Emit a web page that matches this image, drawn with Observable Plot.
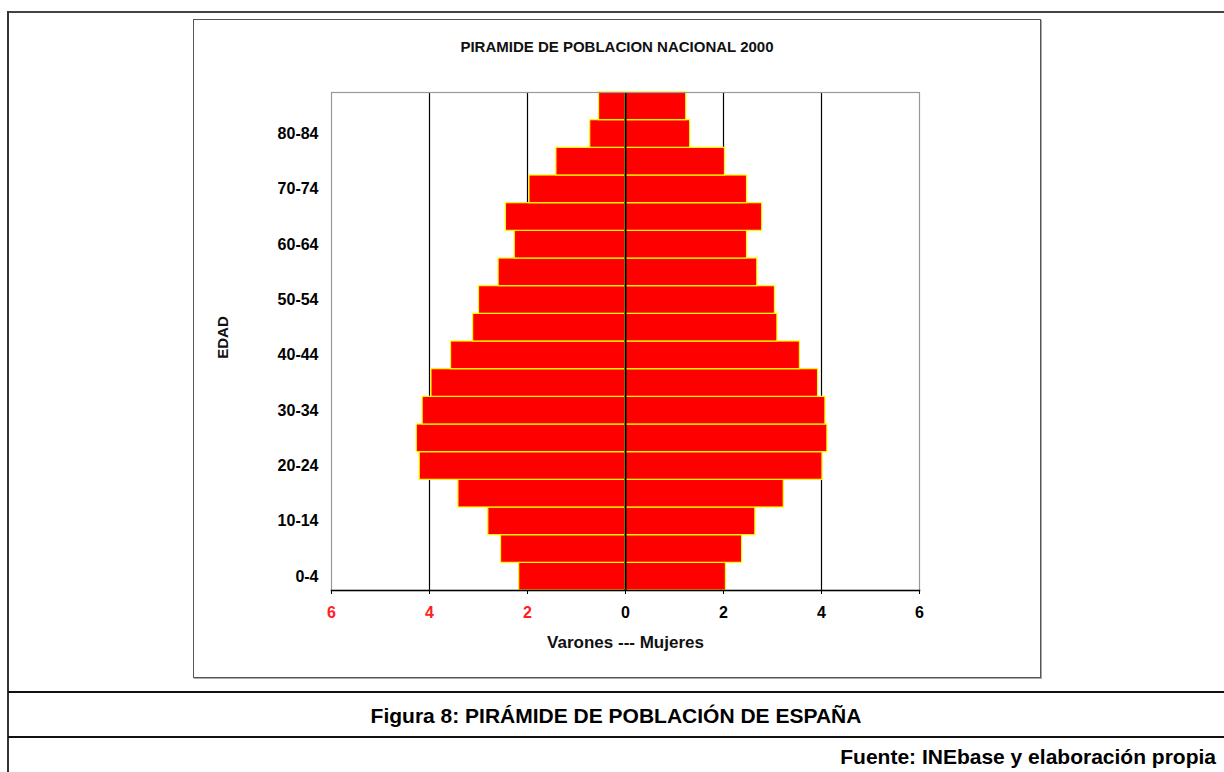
<!DOCTYPE html>
<html>
<head>
<meta charset="utf-8">
<script src="https://cdn.jsdelivr.net/npm/d3@7"></script>
<script src="https://cdn.jsdelivr.net/npm/@observablehq/plot@0.6"></script>
<style>
  body { margin: 0; background: #fff; font-family: "Liberation Sans", Arial, sans-serif; }
  #page { position: relative; width: 1224px; height: 772px; overflow: hidden; }
  .abs { position: absolute; }
  .hline { position: absolute; left: 8px; width: 1216px; height: 0; }
  #frame { left: 193px; top: 19px; width: 846px; height: 657px; border: 1px solid #555; box-shadow: 1px 1px 0 #aaa; }
  #title { left: 193px; width: 848px; top: 38px; text-align: center; font-size: 15px; font-weight: bold; color: #111; line-height: 18px; }
  #chart { left: 193px; top: 19px; }
  #caption { left: 8px; width: 1216px; top: 703px; text-align: center; font-size: 21px; font-weight: bold; line-height: 26px; color: #000; }
  #source { right: 8px; top: 744px; text-align: right; font-size: 21px; font-weight: bold; line-height: 26px; color: #000; }
</style>
</head>
<body>
<div id="page">
  <div class="hline" style="top:11px; border-top:2px solid #444;"></div>
  <div class="abs" style="left:7px; top:11px; width:0; height:761px; border-left:2px solid #333;"></div>
  <div class="hline" style="top:691px; border-top:2px solid #111;"></div>
  <div class="hline" style="top:736px; border-top:2px solid #111;"></div>
  <div id="frame" class="abs"></div>
  <div id="title" class="abs">PIRAMIDE DE POBLACION NACIONAL 2000</div>
  <div id="chart" class="abs"></div>
  <div id="caption" class="abs">Figura 8: PIRÁMIDE DE POBLACIÓN DE ESPAÑA</div>
  <div id="source" class="abs">Fuente: INEbase y elaboración propia</div>
</div>
<script>
// Age groups (bottom to top)
const ages = ["0-4","5-9","10-14","15-19","20-24","25-29","30-34","35-39","40-44","45-49","50-54","55-59","60-64","65-69","70-74","75-79","80-84","85+"];
// Percent of population, men (left) and women (right)
const varones = [2.17, 2.54, 2.80, 3.41, 4.20, 4.26, 4.14, 3.96, 3.56, 3.11, 2.99, 2.59, 2.26, 2.44, 1.96, 1.41, 0.72, 0.54];
const mujeres = [2.05, 2.38, 2.65, 3.23, 4.02, 4.12, 4.08, 3.93, 3.56, 3.10, 3.05, 2.69, 2.48, 2.79, 2.48, 2.03, 1.32, 1.24];
// Tick labels
const yTickLabels = ["0-4","10-14","20-24","30-34","40-44","50-54","60-64","70-74","80-84"];
const xTicks = [-6, -4, -2, 0, 2, 4, 6];
const gridValues = [-4, -2, 2, 4];
const xLabel = "Varones --- Mujeres";
const yLabel = "EDAD";

const rows = [];
ages.forEach((a, i) => {
  rows.push({age: a, sexo: "Varones", value: -varones[i]});
  rows.push({age: a, sexo: "Mujeres", value: mujeres[i]});
});

const chart = Plot.plot({
  width: 848,
  height: 659,
  marginLeft: 138,
  marginRight: 122,
  marginTop: 73,
  marginBottom: 88,
  style: {fontFamily: "Liberation Sans, Arial, sans-serif", fontSize: "16px", fontWeight: "bold", color: "#000", background: "transparent", overflow: "visible"},
  x: {domain: [-6, 6], label: null},
  y: {domain: ages.slice().reverse(), padding: 0, round: false, label: null},
  marks: [
    Plot.ruleX(gridValues, {stroke: "#000", strokeWidth: 1.2}),
    Plot.barX(rows, {x1: 0, x2: "value", y: "age", fill: "#ff0000", stroke: "#ffff00", strokeWidth: 1.2}),
    Plot.ruleX([0], {stroke: "#000", strokeWidth: 2}),
    Plot.frame({stroke: "#999", strokeWidth: 1.2}),
    Plot.frame({anchor: "bottom", stroke: "#000", strokeWidth: 1.5}),
    Plot.axisX({ticks: xTicks.filter(d => d < 0), tickFormat: d => Math.abs(d), fill: "#ff2020", stroke: "#000", tickSize: 4, tickPadding: 12, label: null}),
    Plot.axisX({ticks: xTicks.filter(d => d >= 0), tickFormat: d => Math.abs(d), fill: "#000", stroke: "#000", tickSize: 4, tickPadding: 12, label: null}),
    Plot.axisY({ticks: yTickLabels, tickSize: 0, tickPadding: 13, label: null, fill: "#000"}),
    Plot.text([xLabel], {frameAnchor: "bottom", dy: 52, lineAnchor: "middle", fontSize: 17, fill: "#111"}),
    Plot.text([yLabel], {frameAnchor: "left", dx: -108, dy: -4, rotate: -90, textAnchor: "middle", lineAnchor: "middle", fontSize: 15, fill: "#111"})
  ]
});
document.getElementById("chart").appendChild(chart);
</script>
</body>
</html>
